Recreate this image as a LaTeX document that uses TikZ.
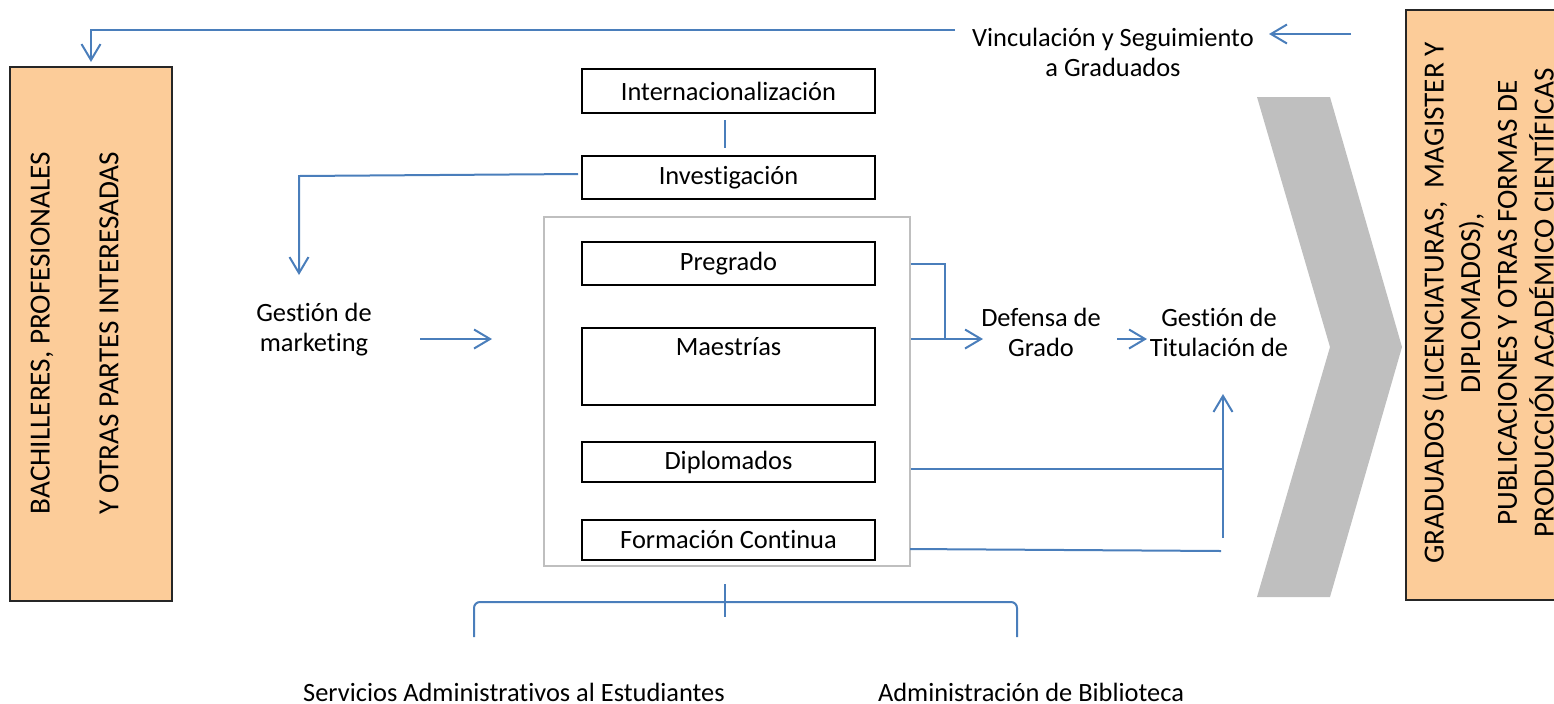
\documentclass[tikz,border=0pt]{standalone}
\usepackage{fontspec}
\setmainfont{Carlito}[Ligatures=NoCommon]
\usetikzlibrary{arrows.meta,calc}
\definecolor{lblue}{HTML}{4A7EBB}
\definecolor{peach}{HTML}{FCCC99}
\definecolor{chev}{HTML}{BFBFBF}
\definecolor{frame}{HTML}{BFBFBF}
\begin{document}
\begin{tikzpicture}[x=0.5pt,y=-0.5pt,
  font=\fontsize{13.2pt}{15pt}\selectfont,
  conn/.style={lblue, line width=1pt},
  arr/.style={conn, -{Straight Barb[length=8pt,width=9.5pt]}},
  box/.style={draw=black, line width=1pt, minimum width=146.5pt, inner sep=0pt},
  lbl/.style={align=center, inner sep=0pt},
  sidetxt/.style={lbl, rotate=90, font=\fontsize{14.6pt}{18.35pt}\selectfont},
  side/.style={draw=black!85, fill=peach, line width=0.6pt, inner sep=0pt},
]
\useasboundingbox (0,0) rectangle (1554,703);

% side boxes
\node[side, minimum width=81pt, minimum height=267pt] (src) at (91,334) {};
\node[sidetxt] (src1) at (42,333) {BACHILLERES, PROFESIONALES};
\node[sidetxt] (src2) at (109,333) {Y OTRAS PARTES INTERESADAS};
\node[side, minimum width=77pt, minimum height=295pt] (out) at (1483,305) {};
\node[sidetxt] (outt) at (1488,303)
  {GRADUADOS (LICENCIATURAS,\ \ MAGISTER Y\\DIPLOMADOS),\\PUBLICACIONES Y OTRAS FORMAS DE\\PRODUCCIÓN ACADÉMICO CIENTÍFICAS};

% chevron
\fill[chev] (1257,97) -- (1330,97) -- (1402,347) -- (1330,597) -- (1257,597) -- (1330,347) -- cycle;

% central boxes
\node[box, minimum height=22pt] (intl) at (728.5,91) {Internacionalización};
\node[box, minimum height=21.5pt] (inv) at (728.5,177.5) {Investigación};
\node[draw=frame, line width=0.75pt, minimum width=183pt, minimum height=174.5pt, inner sep=0pt] (prog) at (727,391.5) {};
\node[box, minimum height=21.5pt] (preg) at (728.5,263.5) {Pregrado};
\node[box, minimum height=38.5pt, label={[lbl, anchor=center, yshift=-10pt]north:Maestrías}] (maes) at (728.5,366.5) {};
\node[box, minimum height=20pt] (dipl) at (728.5,462) {Diplomados};
\node[box, minimum height=20pt] (form) at (728.5,540) {Formación Continua};

% text labels
\node[lbl] (vinc) at (1113,52) {Vinculación y Seguimiento\\a Graduados};
\node[lbl] (mkt) at (314,330) {Gestión de\\marketing};
\node[lbl] (def) at (1041,332) {Defensa de\\Grado};
\node[lbl] (tit) at (1219,332) {Gestión de\\Titulación de};
\node[lbl] (serv) at (514,692) {Servicios Administrativos al Estudiantes};
\node[lbl] (adm) at (1031,692) {Administración de Biblioteca};

% coordinates
\coordinate (topR) at (955,30);
\coordinate (topL) at (91,30);
\coordinate (srcIn) at (91,62);
\coordinate (vR) at (1351,34);
\coordinate (vL) at (1269,34);
\coordinate (invL) at (578,174);
\coordinate (mk1) at (299,176);
\coordinate (mk2) at (299,275);
\coordinate (mkA) at (420,339);
\coordinate (mkB) at (492,339);
\coordinate (pr1) at (945,264);
\coordinate (pr2) at (945,339);
\coordinate (dfA) at (983,339);
\coordinate (dfB) at (1117,339);
\coordinate (dfC) at (1147,339);
\coordinate (dp1) at (1223,469);
\coordinate (up1) at (1223,538);
\coordinate (up2) at (1223,394);
\coordinate (fc1) at (1221,551);

% connectors
\draw[arr] (topR) -- (topL) -- (srcIn);
\draw[arr] (vR) -- (vL);
\draw[conn] (725,120) -- (725,148);
\draw[arr] (invL) -- (mk1) -- (mk2);
\draw[arr] (mkA) -- (mkB);
\draw[conn] (prog.east |- pr1) -- (pr1) -- (pr2);
\draw[arr] (prog.east |- dfA) -- (dfA);
\draw[arr] (dfB) -- (dfC);
\draw[conn] (prog.east |- dp1) -- (dp1);
\draw[arr] (up1) -- (up2);
\draw[conn] (910,549) -- (fc1);
\draw[conn] (725,584) -- (725,617);
\draw[conn, rounded corners=3pt] (474,637) -- (474,602) -- (1017,602) -- (1017,637);
\end{tikzpicture}
\end{document}
